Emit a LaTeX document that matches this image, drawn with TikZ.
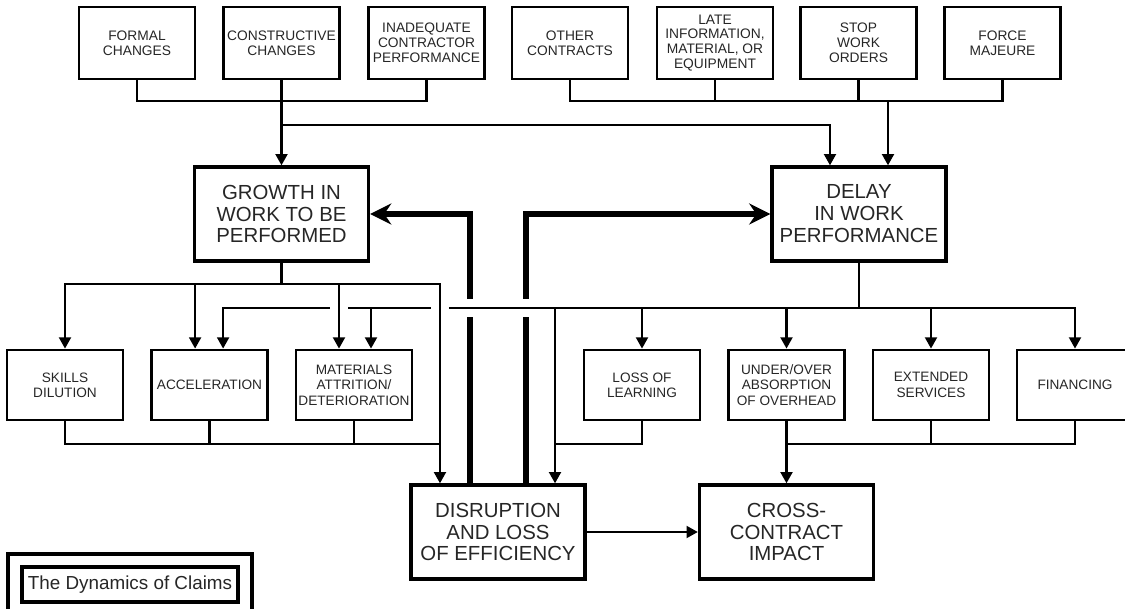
\documentclass[tikz,border=0pt]{standalone}
\usepackage{fontspec}
\setmainfont{Liberation Sans}
\usetikzlibrary{arrows.meta}

\tikzstyle{box}=[rectangle,draw,align=center,inner sep=0pt,text=black!85]
\tikzstyle{cause}=[box,line width=2pt,minimum width=2.9cm,minimum height=1.8cm,font=\fontsize{9.8}{10.6}\selectfont]
\tikzstyle{effect}=[box,line width=2pt,minimum width=2.9cm,minimum height=1.75cm,font=\fontsize{9.7}{10.9}\selectfont]
\tikzstyle{core}=[box,line width=2.4pt,minimum width=4.35cm,minimum height=2.35cm,font=\fontsize{14.5}{15.6}\selectfont]
\tikzstyle{link}=[line width=1.5pt]
\tikzstyle{arr}=[link,-{Triangle[length=8pt,width=8.5pt]}]
\tikzstyle{push}=[line width=3.6pt]
\tikzstyle{pusharr}=[push,-{Stealth[length=15pt,width=15pt,inset=5pt]}]

\begin{document}
\begin{tikzpicture}[x=0.025cm,y=-0.025cm]
  \useasboundingbox (0,0) rectangle (1125,609);

  \node[cause] (formal) at (137,43) {FORMAL\\CHANGES};
  \node[cause] (constr) at (281.5,43) {CONSTRUCTIVE\\CHANGES};
  \node[cause] (inadeq) at (426.5,43) {INADEQUATE\\CONTRACTOR\\PERFORMANCE};
  \node[cause] (other) at (570,43) {OTHER\\CONTRACTS};
  \node[cause] (late) at (715,43) {LATE\\INFORMATION,\\MATERIAL, OR\\EQUIPMENT};
  \node[cause] (stop) at (858.5,43) {STOP\\WORK\\ORDERS};
  \node[cause] (force) at (1002.5,43) {FORCE\\MAJEURE};

  \node[core] (growth) at (281.5,214) {GROWTH IN\\WORK TO BE\\PERFORMED};
  \node[core] (delay) at (859,214) {DELAY\\IN WORK\\PERFORMANCE};

  \node[effect] (skills) at (65,385) {SKILLS\\DILUTION};
  \node[effect] (accel) at (209.5,385) {ACCELERATION};
  \node[effect] (mat) at (354,385) {MATERIALS\\ATTRITION/\\DETERIORATION};
  \node[effect] (loss) at (642,385) {LOSS OF\\LEARNING};
  \node[effect] (under) at (786.5,385) {UNDER/OVER\\ABSORPTION\\OF OVERHEAD};
  \node[effect] (ext) at (931,385) {EXTENDED\\SERVICES};
  \node[effect] (fin) at (1075,385) {FINANCING};

  \node[core] (disr) at (498,532) {DISRUPTION\\AND LOSS\\OF EFFICIENCY};
  \node[core] (cross) at (786.5,532) {CROSS-\\CONTRACT\\IMPACT};

  \node[box,line width=2.2pt,minimum width=6.1cm,minimum height=2.2cm] (frame) at (130,598) {};
  \node[box,line width=2.2pt,minimum width=5.4cm,minimum height=0.875cm,font=\fontsize{13.4}{15}\selectfont] (title) at (130,584.5) {The Dynamics of Claims};

  % bus levels
  \coordinate (busL) at (281.5,101);
  \coordinate (busR) at (888,101);
  \coordinate (busX) at (281.5,125);
  \coordinate (gbus) at (281.5,284);
  \coordinate (dbus) at (859,308);
  \coordinate (lbus) at (440,444);
  \coordinate (rbus) at (555,444);
  \coordinate (cbus) at (786.5,444);

  \coordinate (accL) at ([xshift=-0.36cm]accel.north);
  \coordinate (accR) at ([xshift=0.34cm]accel.north);
  \coordinate (matL) at ([xshift=-0.375cm]mat.north);
  \coordinate (matR) at ([xshift=0.425cm]mat.north);
  \coordinate (disL) at ([xshift=-1.45cm]disr.north);
  \coordinate (disR) at ([xshift=1.425cm]disr.north);
  \coordinate (pushL) at ([xshift=-0.7cm]disr.north);
  \coordinate (pushR) at ([xshift=0.7cm]disr.north);
  \coordinate (hopA) at (matL |- dbus);
  \coordinate (hopB) at (disL |- dbus);
  \coordinate (crossL) at (pushL |- dbus);
  \coordinate (crossR) at (pushR |- dbus);

  % causes to growth and delay
  \draw[link] (formal.south) |- (busL) -| (inadeq.south);
  \draw[arr] (constr.south) -- (growth.north);
  \draw[arr] (busX) -| ([xshift=-0.725cm]delay.north);
  \draw[link] (other.south) |- (busR) -| (force.south);
  \draw[link] (late.south) -- (late.south |- busR);
  \draw[link] (stop.south) -- (stop.south |- busR);
  \draw[arr] (busR) -- (busR |- delay.north);

  % growth branch
  \draw[link] (growth.south) -- (gbus);
  \draw[arr] (gbus) -| (skills.north);
  \draw[arr] (gbus) -| (disL);
  \draw[arr] (accL |- gbus) -- (accL);
  \draw[arr] (matL |- gbus) -- (matL);

  % delay branch, broken where it hops over
  \draw[link] (delay.south) -- (dbus);
  \draw[arr] ([xshift=-0.225cm]hopA) -| (accR);
  \draw[link] ([xshift=0.225cm]hopA) -- ([xshift=-0.225cm]hopB);
  \draw[arr] ([xshift=0.225cm]hopB) -| (fin.north);
  \draw[arr] (matR |- dbus) -- (matR);
  \draw[arr] (disR |- dbus) -- (disR);
  \foreach \n in {loss,under,ext} \draw[arr] (\n.north |- dbus) -- (\n.north);

  % feedback from disruption
  \draw[push] (pushL) -- ([yshift=-0.225cm]crossL);
  \draw[pusharr] ([yshift=0.225cm]crossL) |- (growth.east);
  \draw[push] (pushR) -- ([yshift=-0.225cm]crossR);
  \draw[pusharr] ([yshift=0.225cm]crossR) |- (delay.west);

  % effects to disruption and impact
  \draw[link] (skills.south) |- (lbus);
  \draw[link] (accel.south) -- (accel.south |- lbus);
  \draw[link] (mat.south) -- (mat.south |- lbus);
  \draw[link] (loss.south) |- (rbus);
  \draw[link] (fin.south) |- (cbus);
  \draw[link] (ext.south) -- (ext.south |- cbus);
  \draw[arr] (under.south) -- (cross.north);
  \draw[arr] (disr.east) -- (cross.west);
\end{tikzpicture}
\end{document}
